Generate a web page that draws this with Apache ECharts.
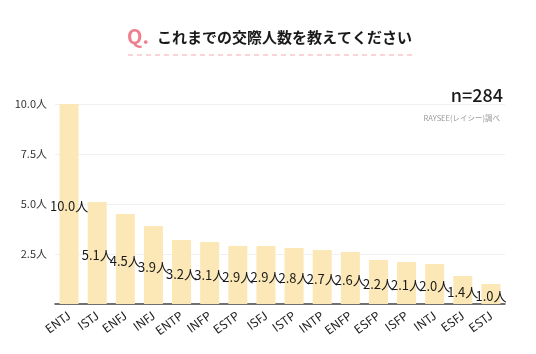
<!DOCTYPE html>
<html>
<head>
<meta charset="utf-8">
<script src="https://cdn.jsdelivr.net/npm/echarts@6/dist/echarts.min.js"></script>
<style>
  html, body { margin: 0; padding: 0; background: #fff; }
  #chart { width: 536px; height: 354px; }
</style>
</head>
<body>
<div id="chart"></div>
<script>
// 交際人数（MBTI別 平均）
const categories = ['ENTJ', 'ISTJ', 'ENFJ', 'INFJ', 'ENTP', 'INFP', 'ESTP', 'ISFJ',
  'ISTP', 'INTP', 'ENFP', 'ESFP', 'ISFP', 'INTJ', 'ESFJ', 'ESTJ']
const values = [10.0, 5.1, 4.5, 3.9, 3.2, 3.1, 2.9, 2.9, 2.8, 2.7, 2.6, 2.2, 2.1, 2.0, 1.4, 1.0]
const yTicks = [0, 2.5, 5, 7.5, 10]

const font = '"Noto Sans CJK JP", "Noto Sans", sans-serif'
const chart = echarts.init(document.getElementById('chart'), null, { renderer: 'canvas' })

chart.setOption({
  backgroundColor: '#fff',
  animation: false,
  textStyle: { fontFamily: font },
  graphic: [
    { type: 'text', left: 127, top: 26,
      style: { text: 'Q.', fill: '#ee7f8c', font: 'bold 20px ' + font } },
    { type: 'text', left: 157, top: 30,
      style: { text: 'これまでの交際人数を教えてください', fill: '#1a1a1a', font: 'bold 15px ' + font } },
    { type: 'line', shape: { x1: 128, y1: 55, x2: 412, y2: 55 },
      style: { stroke: '#f2a7b1', lineWidth: 1, lineDash: [5, 4] } },
    { type: 'text', right: 33, top: 86,
      style: { text: 'n=284', fill: '#1a1a1a', font: '500 18px ' + font } },
    { type: 'text', right: 36, top: 114,
      style: { text: 'RAYSEE(レイシー)調べ', fill: '#999', font: '7.5px ' + font } },
  ],
  grid: { left: 55, right: 31, top: 104, bottom: 50 },
  xAxis: {
    type: 'category',
    data: categories,
    axisLine: { lineStyle: { color: '#444', width: 1.5 } },
    axisTick: { show: false },
    axisLabel: { rotate: 36, color: '#222', fontSize: 12, margin: 10, interval: 0 },
  },
  yAxis: {
    type: 'value',
    min: yTicks[0],
    max: yTicks[yTicks.length - 1],
    interval: 2.5,
    axisLine: { show: false },
    axisTick: { show: false },
    splitLine: { lineStyle: { color: '#f0f0f0' } },
    axisLabel: {
      color: '#333', fontSize: 11, margin: 8,
      formatter: v => (v === 0 ? '' : v.toFixed(1) + '人'),
    },
  },
  series: [{
    type: 'bar',
    data: values,
    barWidth: 19,
    itemStyle: { color: '#fbe8b6' },
    label: {
      show: true,
      position: 'inside',
      offset: [0, 2],
      color: '#1a1a1a',
      fontSize: 13,
      formatter: p => p.value.toFixed(1) + '人',
    },
  }],
})
</script>
</body>
</html>
